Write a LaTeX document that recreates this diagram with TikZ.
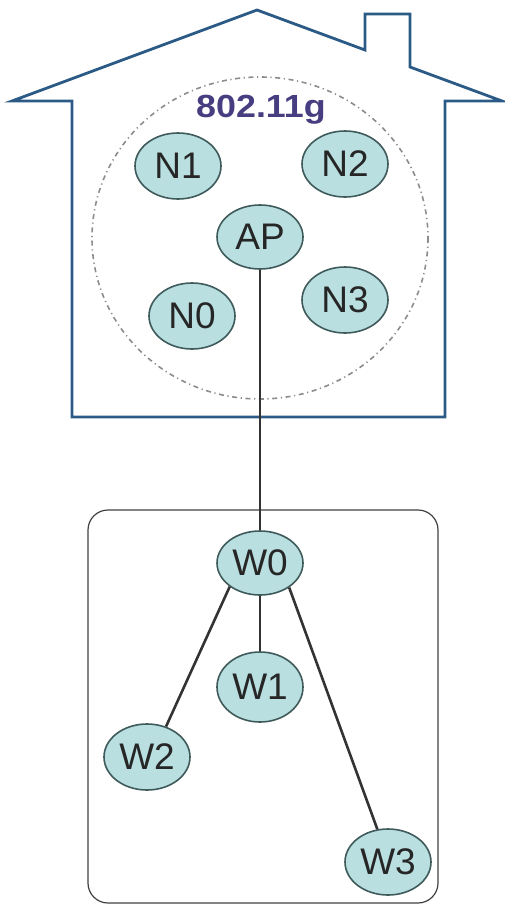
\documentclass[tikz,border=0pt]{standalone}
\usepackage{fontspec}
\setmainfont{Liberation Sans}
\usetikzlibrary{shapes.geometric}
\definecolor{housecol}{HTML}{2A5A85}
\definecolor{nodefill}{HTML}{BADFE1}
\definecolor{nodeline}{HTML}{3F5A5A}
\definecolor{labelcol}{HTML}{463E80}

\begin{document}
\begin{tikzpicture}[x=0.5pt,y=-0.5pt,
    station/.style={ellipse,draw=nodeline,fill=nodefill,line width=0.8pt,
      minimum width=43pt,minimum height=33pt,inner sep=0pt,
      font=\fontsize{18.5}{20}\selectfont,text=black!85},
    link/.style={draw,line width=1.3pt,color=black!80}]
    \useasboundingbox (0,0) rectangle (504,905);

    % house
    \path[draw,line width=1.4pt,color=housecol,line join=miter]
      (12,101) -- (257,10) -- (365,50) -- (365,14) -- (410,14) -- (410,67)
      -- (502,101) -- (445,101) -- (445,417) -- (72,417) -- (72,101) -- cycle;

    % 802.11g range
    \path[draw,line width=0.8pt,color=black!45,
      dash pattern=on 2.5pt off 1.8pt on 0.6pt off 1.8pt]
      (260,238) ellipse [x radius=168, y radius=161];
    \draw (261,110) node[font=\bfseries\fontsize{16}{18}\selectfont,
      text=labelcol] (band) {\scalebox{1.12}[1]{802.11g}};

    \draw (178,166) node[station] (N1) {N1};
    \draw (345,164) node[station] (N2) {N2};
    \draw (260,237) node[station,minimum height=32pt] (AP) {AP};
    \draw (192,316) node[station] (N0) {N0};
    \draw (345,300) node[station] (N3) {N3};

    % wired part
    \path[draw,line width=0.6pt,color=black!75,rounded corners=10pt]
      (88,510) rectangle (438,903);

    \draw (260,563) node[station,minimum height=32pt] (W0) {W0};
    \draw (260,687) node[station,minimum height=35pt] (W1) {W1};
    \draw (147,757) node[station] (W2) {W2};
    \draw (388,862) node[station] (W3) {W3};

    \path[link] (AP) -- (W0);
    \path[link] (W0) -- (W1);
    \path[link] (W0.218) -- (W2.58);
    \path[link] (W0.320) -- (W3.108);
\end{tikzpicture}
\end{document}
